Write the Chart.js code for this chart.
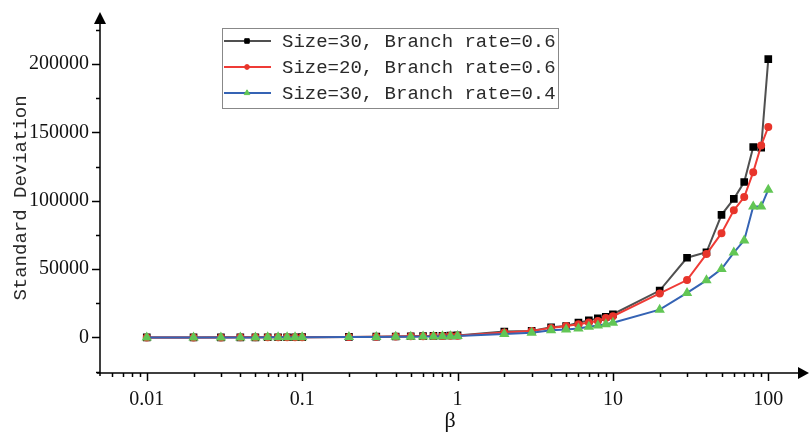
<!DOCTYPE html>
<html>
<head>
<meta charset="utf-8">
<script src="https://cdn.jsdelivr.net/npm/chart.js@4/dist/chart.umd.min.js"></script>
<style>
  html, body { margin: 0; padding: 0; background: #fff; }
  #wrap { width: 810px; height: 436px; }
</style>
</head>
<body>
<div id="wrap"><canvas id="sdChart" width="810" height="436"></canvas></div>
<script>
// beta values on the x axis
const betaValues = [0.01, 0.02, 0.03, 0.04, 0.05, 0.06, 0.07, 0.08, 0.09, 0.1,
                    0.2, 0.3, 0.4, 0.5, 0.6, 0.7, 0.8, 0.9, 1,
                    2, 3, 4, 5, 6, 7, 8, 9, 10,
                    20, 30, 40, 50, 60, 70, 80, 90, 100];

// Size=30, Branch rate=0.6
const size30Rate06 = [20, 40, 60, 80, 100, 120, 140, 160, 180, 200,
                      400, 550, 700, 850, 1000, 1100, 1250, 1400, 1500,
                      4300, 4800, 7400, 8400, 10800, 12500, 13900, 15000, 17000,
                      34300, 58300, 62300, 89700, 101400, 113700, 139300, 138800, 203600];

// Size=20, Branch rate=0.6
const size20Rate06 = [15, 30, 45, 60, 75, 90, 105, 120, 135, 150,
                      350, 500, 650, 800, 900, 1000, 1100, 1200, 1300,
                      3600, 4700, 7000, 8300, 9600, 11000, 12100, 14200, 15500,
                      32200, 42000, 61000, 76300, 93000, 102700, 120900, 140400, 154000];

// Size=30, Branch rate=0.4
const size30Rate04 = [10, 20, 30, 40, 50, 60, 70, 80, 90, 100,
                      250, 350, 450, 550, 650, 750, 850, 950, 1100,
                      2600, 3500, 5300, 5800, 6600, 7800, 8700, 9600, 10700,
                      20300, 32600, 41800, 50000, 62100, 71000, 95700, 95700, 108100];

const seriesLabels = ['Size=30, Branch rate=0.6', 'Size=20, Branch rate=0.6', 'Size=30, Branch rate=0.4'];

const xTickValues = [0.01, 0.1, 1, 10, 100];
const xTickLabels = ['0.01', '0.1', '1', '10', '100'];
const yTickValues = [0, 50000, 100000, 150000, 200000];

const monoFont = '"Liberation Mono", "DejaVu Sans Mono", monospace';
const serifFont = '"Liberation Serif", "DejaVu Serif", serif';

// axis lines, arrow heads and major/minor tick marks
const axisPlugin = {
    id: 'axisPlugin',
    afterDraw(chart) {
        const { ctx, chartArea: a, scales: { x, y } } = chart;
        ctx.save();
        ctx.strokeStyle = '#000';
        ctx.fillStyle = '#000';
        ctx.lineWidth = 1.5;

        ctx.beginPath();
        ctx.moveTo(a.left - 3, a.bottom);
        ctx.lineTo(a.right, a.bottom);
        ctx.moveTo(a.left, a.bottom + 3);
        ctx.lineTo(a.left, a.top);
        ctx.stroke();

        // arrows
        ctx.beginPath();
        ctx.moveTo(a.left, a.top - 11);
        ctx.lineTo(a.left - 6, a.top + 1);
        ctx.lineTo(a.left + 6, a.top + 1);
        ctx.closePath();
        ctx.fill();
        ctx.beginPath();
        ctx.moveTo(a.right + 9, a.bottom);
        ctx.lineTo(a.right - 2, a.bottom - 6);
        ctx.lineTo(a.right - 2, a.bottom + 6);
        ctx.closePath();
        ctx.fill();

        // x ticks (log): 1..9 per decade
        ctx.beginPath();
        for (let d = 0.001; d <= 100; d *= 10) {
            for (let m = 1; m <= 9; m++) {
                const v = +(m * d).toPrecision(3);
                if (v <= x.min || v >= x.max) continue;
                const px = Math.round(x.getPixelForValue(v)) + 0.5;
                const len = m === 1 ? 8 : 4;
                ctx.moveTo(px, a.bottom);
                ctx.lineTo(px, a.bottom + len);
            }
        }
        // y ticks every 25000
        for (let v = -25000; v <= 225000; v += 25000) {
            const py = Math.round(y.getPixelForValue(v)) + 0.5;
            const len = v % 50000 === 0 ? 8 : 4;
            ctx.moveTo(a.left, py);
            ctx.lineTo(a.left - len, py);
        }
        ctx.stroke();
        ctx.restore();
    }
};

// boxed legend inside the plot, line sample with marker
const legendPlugin = {
    id: 'boxLegend',
    afterDraw(chart) {
        const ctx = chart.ctx;
        const left = 222, top = 28, width = 336, height = 80, rowH = 26;
        ctx.save();
        ctx.fillStyle = '#fff';
        ctx.fillRect(left, top, width, height);
        ctx.strokeStyle = '#888';
        ctx.lineWidth = 1;
        ctx.strokeRect(left + 0.5, top + 0.5, width, height);
        chart.data.datasets.forEach((ds, i) => {
            const cy = top + 13 + i * rowH;
            ctx.strokeStyle = ds.borderColor;
            ctx.lineWidth = 2;
            ctx.beginPath();
            ctx.moveTo(left + 2, cy);
            ctx.lineTo(left + 49, cy);
            ctx.stroke();
            ctx.fillStyle = ds.pointBackgroundColor;
            ctx.strokeStyle = ds.pointBorderColor;
            ctx.lineWidth = 1;
            Chart.helpers.drawPoint(ctx, {
                pointStyle: ds.pointStyle,
                radius: ds.pointRadius * 0.8,
                rotation: 0,
                borderWidth: 1
            }, left + 25, cy);
            ctx.fillStyle = '#2a2a2a';
            ctx.font = '19px ' + monoFont;
            ctx.textBaseline = 'middle';
            ctx.fillText(ds.label, left + 60, cy + 1);
        });
        ctx.restore();
    }
};

const ctx = document.getElementById('sdChart').getContext('2d');
new Chart(ctx, {
    type: 'line',
    data: {
        labels: betaValues,
        datasets: [{
            label: seriesLabels[0],
            data: betaValues.map((b, i) => ({ x: b, y: size30Rate06[i] })),
            borderColor: '#505050',
            borderWidth: 2,
            pointStyle: 'rect',
            pointRadius: 4,
            pointBackgroundColor: '#000',
            pointBorderColor: '#000',
            order: 3
        }, {
            label: seriesLabels[1],
            data: betaValues.map((b, i) => ({ x: b, y: size20Rate06[i] })),
            borderColor: '#ef3b36',
            borderWidth: 2,
            pointStyle: 'circle',
            pointRadius: 3,
            pointBackgroundColor: '#e8352b',
            pointBorderColor: '#e8352b',
            order: 2
        }, {
            label: seriesLabels[2],
            data: betaValues.map((b, i) => ({ x: b, y: size30Rate04[i] })),
            borderColor: '#3563b4',
            borderWidth: 2,
            pointStyle: 'triangle',
            pointRadius: 4,
            pointBackgroundColor: '#62c655',
            pointBorderColor: '#62c655',
            order: 1
        }]
    },
    options: {
        responsive: false,
        animation: false,
        devicePixelRatio: 1,
        layout: { padding: { top: 17, right: 10, left: 0, bottom: 0 } },
        plugins: {
            legend: { display: false },
            tooltip: { enabled: false }
        },
        elements: { line: { tension: 0 } },
        clip: false,
        scales: {
            x: {
                type: 'logarithmic',
                min: 0.005,
                max: 160,
                grid: { display: false, drawTicks: false },
                border: { display: false },
                afterBuildTicks: scale => { scale.ticks = xTickValues.map(v => ({ value: v })); },
                afterFit: scale => { scale.height = 63; },
                ticks: {
                    autoSkip: false,
                    maxRotation: 0,
                    padding: 15,
                    color: '#111',
                    font: { family: serifFont, size: 20 },
                    callback: (v) => {
                        const i = xTickValues.indexOf(v);
                        return i >= 0 ? xTickLabels[i] : '';
                    }
                },
                title: {
                    display: true,
                    text: 'β',
                    color: '#111',
                    font: { family: serifFont, size: 22 },
                    padding: { top: 0, bottom: 2 }
                }
            },
            y: {
                min: -26000,
                max: 230000,
                grid: { display: false, drawTicks: false },
                border: { display: false },
                afterBuildTicks: scale => { scale.ticks = yTickValues.map(v => ({ value: v })); },
                afterFit: scale => { scale.width = 100; },
                ticks: {
                    padding: 11,
                    color: '#111',
                    font: { family: serifFont, size: 20 },
                    callback: v => String(v)
                },
                title: {
                    display: true,
                    text: 'Standard Deviation',
                    color: '#2a2a2a',
                    font: { family: monoFont, size: 19 },
                    padding: { top: 10, bottom: 0 }
                }
            }
        }
    },
    plugins: [axisPlugin, legendPlugin]
});
</script>
</body>
</html>
